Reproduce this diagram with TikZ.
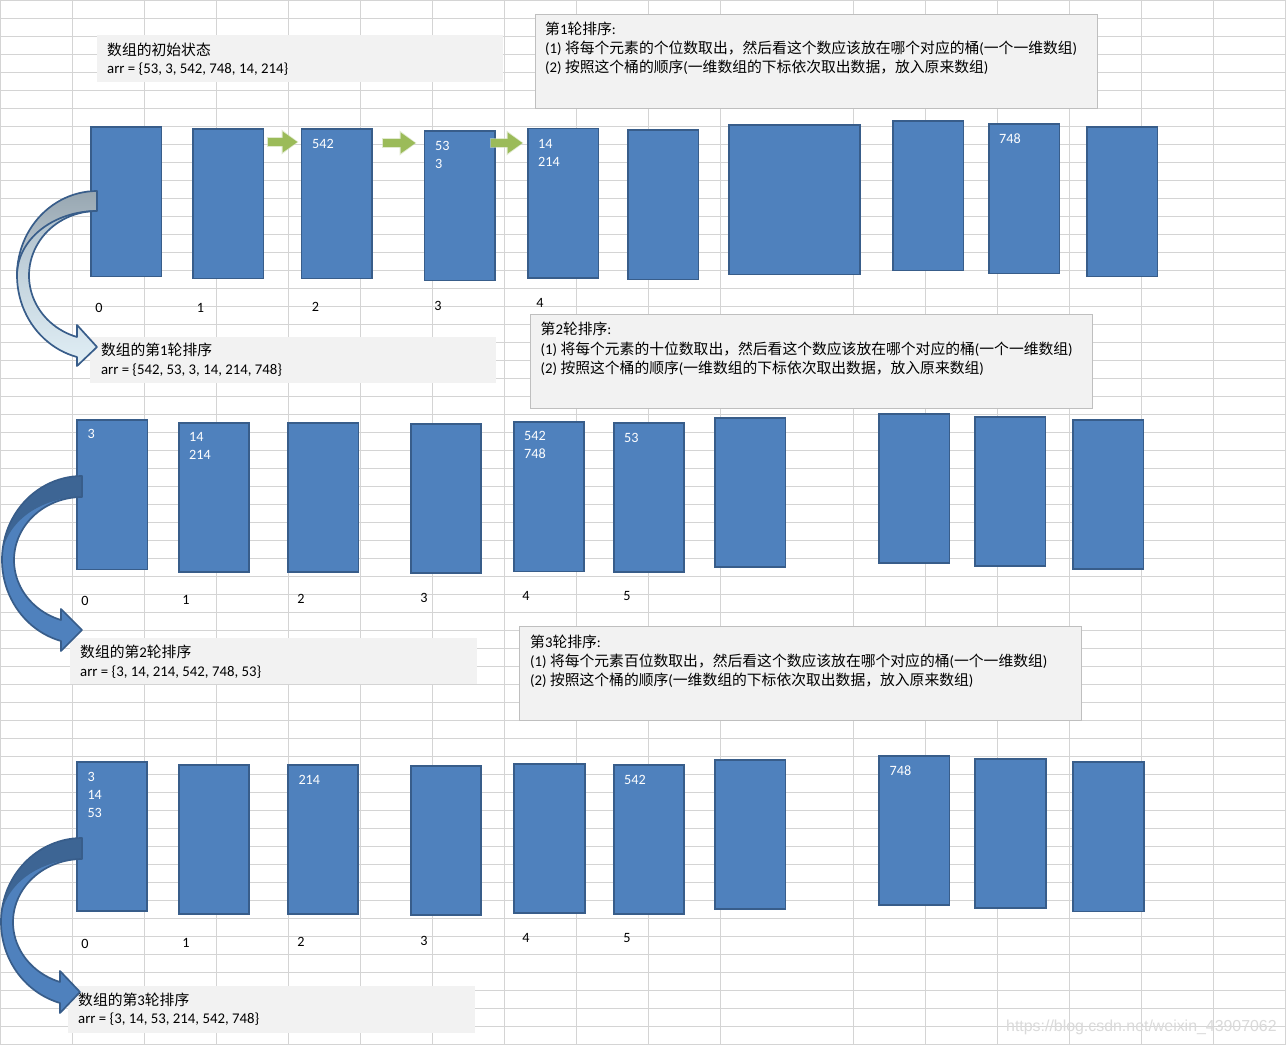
\documentclass[tikz,border=0pt]{standalone}
\usepackage{fontspec}
\setmainfont{Carlito}
\newfontfamily\cjk{Noto Sans CJK SC}
\newfontfamily\wmfont{Liberation Sans}
\newcommand\zh[1]{{\cjk #1}}
\usetikzlibrary{arrows.meta,calc}
\definecolor{bfill}{HTML}{4F81BD}
\definecolor{bline}{HTML}{385D8A}
\definecolor{bdark}{HTML}{3D6594}
\definecolor{gridc}{HTML}{D4D4D4}
\definecolor{boxfill}{HTML}{F2F2F2}
\definecolor{boxline}{HTML}{BFBFBF}
\definecolor{garrow}{HTML}{9BBB59}
\definecolor{gglow}{HTML}{CDDDB0}
\definecolor{atop}{HTML}{A8B9C5}
\definecolor{abot}{HTML}{E1EFF6}
\definecolor{adark}{HTML}{A0B2BF}
\definecolor{wmc}{HTML}{DADADA}
\begin{document}
\begin{tikzpicture}[x=1pt,y=-1pt,
  gridline/.style={draw=gridc,line width=1pt},
  bucket/.style={draw=bline,fill=bfill,line width=1.9pt,anchor=north west,
    inner sep=0pt,outer sep=0pt,minimum width=70.5pt,minimum height=149.5pt},
  descbox/.style={draw=boxline,fill=boxfill,line width=1pt,anchor=north west,inner sep=0pt},
  resbox/.style={fill=boxfill,anchor=north west,inner sep=0pt},
  txt/.style={anchor=base west,inner sep=0pt,font=\fontsize{14.8}{18}\selectfont},
  num/.style={anchor=base west,inner sep=0pt,text=white,font=\fontsize{14.2}{18}\selectfont},
  idx/.style={anchor=base,inner sep=0pt,font=\fontsize{14.2}{18}\selectfont},
  garr/.style={draw=garrow,line width=7.5pt,-{Triangle[length=15pt,width=20pt]}},
  gglowst/.style={draw=gglow,line width=10pt,-{Triangle[length=17pt,width=24pt]}},
  aoutline/.style={draw=bline,line width=1.7pt,line join=round},
  ]
\useasboundingbox (0,0) rectangle (1286,1045);
\fill[white] (0,0) rectangle (1286,1045);
% spreadsheet grid
\foreach \k in {1,...,57} \draw[gridline] (0,18*\k) -- (1286,18*\k);
\foreach \c in {72,144,...,720,853,925,997,1069,1141,1213} \draw[gridline] (\c,0) -- (\c,1045);
\draw[gridline] (0.5,0.5) rectangle (1285.5,1044.5);

% text boxes
\node[resbox,minimum width=406pt,minimum height=47pt] (initbox) at (97,35) {};
\node[descbox,minimum width=562pt,minimum height=94pt] (desc1) at (535,14) {};
\node[resbox,minimum width=406pt,minimum height=46pt] (res1) at (90,337) {};
\node[descbox,minimum width=562pt,minimum height=94pt] (desc2) at (530,314) {};
\node[resbox,minimum width=407pt,minimum height=46pt] (res2) at (70,638) {};
\node[descbox,minimum width=562pt,minimum height=94pt] (desc3) at (519,626) {};
\node[resbox,minimum width=407pt,minimum height=47pt] (res3) at (68,986) {};

% buckets, round 1
\node[bucket] (a0) at (91,127) {};
\node[bucket] (a1) at (193,129) {};
\node[bucket] (a2) at (301.5,129) {};
\node[bucket] (a3) at (424.5,131) {};
\node[bucket] (a4) at (528,128.5) {};
\node[bucket] (a5) at (628,130) {};
\node[bucket,minimum width=131pt] (a6) at (729,125) {};
\node[bucket] (a7) at (893,121) {};
\node[bucket] (a8) at (989,124) {};
\node[bucket] (a9) at (1087,127) {};
% buckets, round 2
\node[bucket] (b0) at (77,420) {};
\node[bucket] (b1) at (178.6,422.7) {};
\node[bucket] (b2) at (288,422.7) {};
\node[bucket] (b3) at (410.7,423.7) {};
\node[bucket] (b4) at (513.6,422) {};
\node[bucket] (b5) at (613.7,422.7) {};
\node[bucket] (b6) at (715,417.7) {};
\node[bucket] (b7) at (879,413.7) {};
\node[bucket] (b8) at (975,416.7) {};
\node[bucket] (b9) at (1073,419.7) {};
% buckets, round 3
\node[bucket] (c0) at (76.7,761.7) {};
\node[bucket] (c1) at (178.7,764.7) {};
\node[bucket] (c2) at (287.7,764.7) {};
\node[bucket] (c3) at (410.7,765.7) {};
\node[bucket] (c4) at (514.3,763.7) {};
\node[bucket] (c5) at (613.8,764.7) {};
\node[bucket] (c6) at (715,759.7) {};
\node[bucket] (c7) at (879,755.7) {};
\node[bucket] (c8) at (975.3,758.7) {};
\node[bucket] (c9) at (1073.3,762) {};

% green arrows between buckets
\draw[gglowst,opacity=0.6] ($(a1.north east)+(3,13)$) -- ($(a2.north west)+(-3,13)$);
\draw[garr] ($(a1.north east)+(4,13)$) -- ($(a2.north west)+(-4,13)$);
\draw[gglowst,opacity=0.6] ($(a2.north east)+(9.5,14)$) -- ($(a3.north west)+(-8,12)$);
\draw[garr] ($(a2.north east)+(10.5,14)$) -- ($(a3.north west)+(-9,12)$);
\draw[gglowst,opacity=0.6] ($(a3.north east)+(-5.5,12)$) -- ($(a4.north west)+(-4.5,14.5)$);
\draw[garr] ($(a3.north east)+(-4.5,12)$) -- ($(a4.north west)+(-5.5,14.5)$);

% curved arrow 1 (light)
\path[top color=atop,bottom color=abot]
  plot[domain=0:1,samples=50] ({97+80*cos(270-165.52*\x)},{275.34+84.34*sin(270-165.52*\x)})
  -- (77,366) -- (97,347) -- (77,325) -- (77,337)
  -- plot[domain=0:1,samples=50] ({97+68*cos(107.1+162.9*\x)},{275.42+64.42*sin(107.1+162.9*\x)})
  -- cycle;
\path[top color=atop!90!black,bottom color=atop!70!white]
  plot[domain=0:1,samples=40] ({97+80*cos(270-90*\x)},{275.34+84.34*sin(270-90*\x)})
  -- plot[domain=0:1,samples=40] ({97+80*cos(180+90*\x)},{275.34+64.34*sin(180+90*\x)})
  -- cycle;
\path[aoutline]
  plot[domain=0:1,samples=50] ({97+80*cos(270-165.52*\x)},{275.34+84.34*sin(270-165.52*\x)})
  -- (77,366) -- (97,347) -- (77,325) -- (77,337)
  -- plot[domain=0:1,samples=50] ({97+68*cos(107.1+162.9*\x)},{275.42+64.42*sin(107.1+162.9*\x)})
  -- cycle;
\path[aoutline] plot[domain=0:1,samples=40] ({97+80*cos(180+90*\x)},{275.34+64.34*sin(180+90*\x)});

% curved arrow 2
\path[fill=bfill]
  plot[domain=0:1,samples=50] ({82+80*cos(270-164.78*\x)},{559.97+83.97*sin(270-164.78*\x)})
  -- (61,651) -- (82,630) -- (61,609) -- (61,620)
  -- plot[domain=0:1,samples=50] ({82+68*cos(107.99+162.01*\x)},{560.04+63.04*sin(107.99+162.01*\x)})
  -- cycle;
\path[fill=bdark]
  plot[domain=0:1,samples=40] ({82+80*cos(270-90*\x)},{559.97+83.97*sin(270-90*\x)})
  -- plot[domain=0:1,samples=40] ({82+80*cos(180+90*\x)},{559.97+62.97*sin(180+90*\x)})
  -- cycle;
\path[aoutline]
  plot[domain=0:1,samples=50] ({82+80*cos(270-164.78*\x)},{559.97+83.97*sin(270-164.78*\x)})
  -- (61,651) -- (82,630) -- (61,609) -- (61,620)
  -- plot[domain=0:1,samples=50] ({82+68*cos(107.99+162.01*\x)},{560.04+63.04*sin(107.99+162.01*\x)})
  -- cycle;

% curved arrow 3
\path[fill=bfill]
  plot[domain=0:1,samples=50] ({82+81*cos(270-164.24*\x)},{922.08+84.08*sin(270-164.24*\x)})
  -- (60,1013) -- (80,992) -- (60,971) -- (60,982)
  -- plot[domain=0:1,samples=50] ({82+69*cos(108.59+161.41*\x)},{922.15+63.15*sin(108.59+161.41*\x)})
  -- cycle;
\path[fill=bdark]
  plot[domain=0:1,samples=40] ({82+81*cos(270-90*\x)},{922.08+84.08*sin(270-90*\x)})
  -- plot[domain=0:1,samples=40] ({82+81*cos(180+90*\x)},{922.08+63.08*sin(180+90*\x)})
  -- cycle;
\path[aoutline]
  plot[domain=0:1,samples=50] ({82+81*cos(270-164.24*\x)},{922.08+84.08*sin(270-164.24*\x)})
  -- (60,1013) -- (80,992) -- (60,971) -- (60,982)
  -- plot[domain=0:1,samples=50] ({82+69*cos(108.59+161.41*\x)},{922.15+63.15*sin(108.59+161.41*\x)})
  -- cycle;

% numbers inside buckets
\node[num] (n1a) at (312,148.5) {542};
\node[num] (n1b) at (435,150) {53};
\node[num] (n1c) at (435,168) {3};
\node[num] (n1d) at (538,148) {14};
\node[num] (n1e) at (538,166) {214};
\node[num] (n1f) at (999,143) {748};
\node[num] (n2a) at (87.5,438.5) {3};
\node[num] (n2b) at (189,441.5) {14};
\node[num] (n2c) at (189,459.5) {214};
\node[num] (n2d) at (524,440.5) {542};
\node[num] (n2e) at (524,458.5) {748};
\node[num] (n2f) at (624,442) {53};
\node[num] (n3a) at (87.3,781) {3};
\node[num] (n3b) at (87.3,799) {14};
\node[num] (n3c) at (87.3,817) {53};
\node[num] (n3d) at (298.3,784) {214};
\node[num] (n3e) at (624,784) {542};
\node[num] (n3f) at (889.4,775) {748};

% bucket indices
\node[idx] (i10) at (99,312.5) {0};
\node[idx] (i11) at (200.5,312) {1};
\node[idx] (i12) at (315.5,311) {2};
\node[idx] (i13) at (438,310) {3};
\node[idx] (i14) at (540,307) {4};
\node[idx] (i20) at (85,605.5) {0};
\node[idx] (i21) at (186,604.5) {1};
\node[idx] (i22) at (301,603.5) {2};
\node[idx] (i23) at (424,602.5) {3};
\node[idx] (i24) at (526,600) {4};
\node[idx] (i25) at (627,600) {5};
\node[idx] (i30) at (85,948) {0};
\node[idx] (i31) at (186,947) {1};
\node[idx] (i32) at (301,946) {2};
\node[idx] (i33) at (424,945) {3};
\node[idx] (i34) at (526,942) {4};
\node[idx] (i35) at (627,942) {5};

% box texts
\node[txt] (t0a) at (107,55) {\zh{数组的初始状态}};
\node[txt] (t0b) at (107,73.5) {arr = \{53, 3, 542, 748, 14, 214\}};
\node[txt] (d1a) at (545,34) {\zh{第}1\zh{轮排序}:};
\node[txt] (d1b) at (545,53) {(1) \zh{将每个元素的个位数取出，然后看这个数应该放在哪个对应的桶}(\zh{一个一维数组})};
\node[txt] (d1c) at (545,72) {(2) \zh{按照这个桶的顺序}(\zh{一维数组的下标依次取出数据，放入原来数组})};
\node[txt] (r1a) at (100.8,355.5) {\zh{数组的第}1\zh{轮排序}};
\node[txt] (r1b) at (100.8,374.5) {arr = \{542, 53, 3, 14, 214, 748\}};
\node[txt] (d2a) at (540.5,334) {\zh{第}2\zh{轮排序}:};
\node[txt] (d2b) at (540.5,354) {(1) \zh{将每个元素的十位数取出，然后看这个数应该放在哪个对应的桶}(\zh{一个一维数组})};
\node[txt] (d2c) at (540.5,373) {(2) \zh{按照这个桶的顺序}(\zh{一维数组的下标依次取出数据，放入原来数组})};
\node[txt] (r2a) at (80,657) {\zh{数组的第}2\zh{轮排序}};
\node[txt] (r2b) at (80,676.5) {arr = \{3, 14, 214, 542, 748, 53\}};
\node[txt] (d3a) at (530,647) {\zh{第}3\zh{轮排序}:};
\node[txt] (d3b) at (530,666) {(1) \zh{将每个元素百位数取出，然后看这个数应该放在哪个对应的桶}(\zh{一个一维数组})};
\node[txt] (d3c) at (530,685) {(2) \zh{按照这个桶的顺序}(\zh{一维数组的下标依次取出数据，放入原来数组})};
\node[txt] (r3a) at (78,1005) {\zh{数组的第}3\zh{轮排序}};
\node[txt] (r3b) at (78,1023.5) {arr = \{3, 14, 53, 214, 542, 748\}};

% watermark
\node[anchor=base west,inner sep=0pt,text=wmc,font=\wmfont\fontsize{15.9}{18}\selectfont] (wm) at (1006,1031) {https://blog.csdn.net/weixin\_43907062};
\end{tikzpicture}
\end{document}
